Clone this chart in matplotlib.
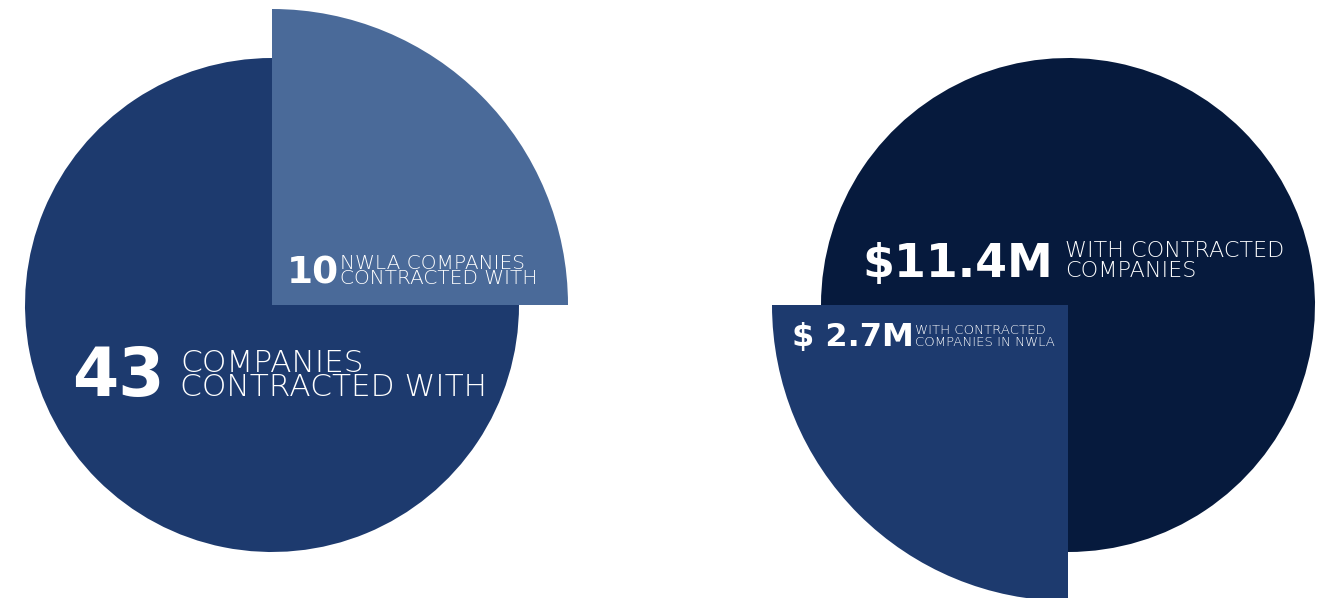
import matplotlib
matplotlib.use("Agg")
import matplotlib.pyplot as plt

# ---- data ----
left_values = [10, 43]                 # NWLA companies, all companies
left_shares = [25, 75]                 # slice shares as drawn
right_values = [2.7, 11.4]             # $M NWLA, $M all
right_shares = [25, 75]

left_colors = ["#4a6a99", "#1d3a6e"]
right_colors = ["#1d3a6e", "#061a3d"]

W, H = 1326, 598
fig = plt.figure(figsize=(W / 100, H / 100), dpi=100)
ax = fig.add_axes([0, 0, 1, 1])

R_MAIN, R_SLICE = 247, 296

def Y(py):
    return H - py

# left pie: slice 12 -> 3 o'clock
wl, _ = ax.pie(left_shares, colors=left_colors, startangle=90, counterclock=False,
               center=(272, Y(305)), radius=R_MAIN, frame=True)
wl[0].set_radius(R_SLICE)
# right pie: slice 9 -> 6 o'clock
wr, _ = ax.pie(right_shares, colors=right_colors, startangle=180, counterclock=True,
               center=(1068, Y(305)), radius=R_MAIN, frame=True)
wr[0].set_radius(R_SLICE)
for w in list(wl) + list(wr):
    w.set_linewidth(0)
wl[0].set_zorder(3)
wr[0].set_zorder(3)
ax.set_xlim(0, W)
ax.set_ylim(0, H)
ax.set_aspect("equal")
ax.axis("off")

BIG = dict(family="DejaVu Sans", weight="bold", color="white", zorder=5)
THIN = dict(family="DejaVu Sans", weight=200, color="white", zorder=5)

def block(x_num, x_txt, base_last, num, size_num, lines, size_txt, ls):
    ax.text(x_num, Y(base_last), num, fontsize=size_num, ha="left", va="baseline", **BIG)
    ax.text(x_txt, Y(base_last), "\n".join(lines), fontsize=size_txt, ha="left",
            va="baseline", linespacing=ls, **THIN)

block(72, 180, 396, f"{left_values[1]}", 48,
      ["COMPANIES", "CONTRACTED WITH"], 22.5, 0.78)
block(287, 340, 284, f"{left_values[0]}", 27,
      ["NWLA COMPANIES", "CONTRACTED WITH"], 14.5, 0.76)
block(862, 1065, 277, f"${right_values[1]}M", 33,
      ["WITH CONTRACTED", "COMPANIES"], 16, 1.0)
block(792, 915, 346, f"$ {right_values[0]}M", 23,
      ["WITH CONTRACTED", "COMPANIES IN NWLA"], 9.5, 1.0)

fig.savefig("out.png", dpi=100)
